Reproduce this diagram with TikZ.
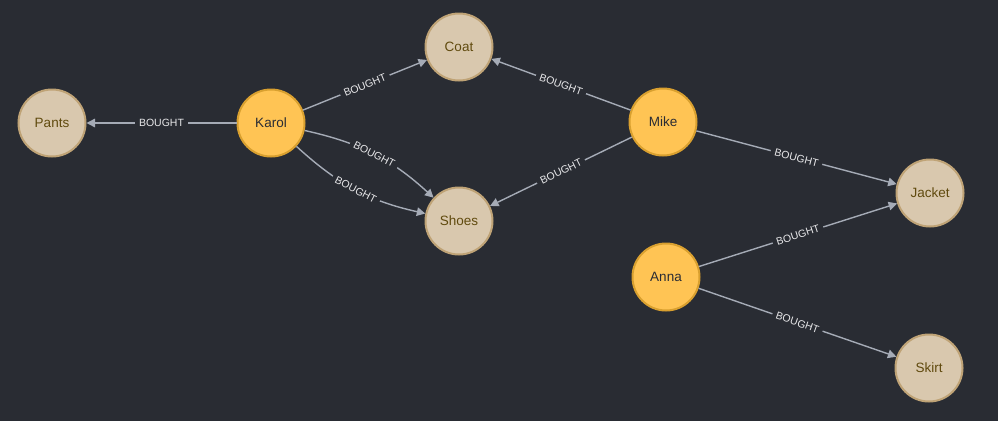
\documentclass[tikz,border=0pt]{standalone}
\usepackage{fontspec}
\setmainfont{Liberation Sans}
\usetikzlibrary{arrows.meta}
\definecolor{bg}{HTML}{292C33}
\definecolor{personfill}{HTML}{FFC454}
\definecolor{personborder}{HTML}{D9A02F}
\definecolor{persontext}{HTML}{2A2C34}
\definecolor{productfill}{HTML}{D9C8AE}
\definecolor{productborder}{HTML}{BFA376}
\definecolor{producttext}{HTML}{604A0E}
\definecolor{edgecol}{HTML}{A5ABB6}
\definecolor{labeltext}{HTML}{E8E8EA}
\begin{document}
\begin{tikzpicture}[x=1pt,y=-1pt,
  person/.style={circle, draw=personborder, fill=personfill, line width=2pt,
    minimum size=67pt, inner sep=0pt, text=persontext, font=\fontsize{13.5}{15}\selectfont},
  product/.style={circle, draw=productborder, fill=productfill, line width=2pt,
    minimum size=67pt, inner sep=0pt, text=producttext, font=\fontsize{13.5}{15}\selectfont},
  rel/.style={draw=edgecol, line width=1.4pt, -{Triangle[length=8.5pt,width=8.5pt]}},
  lbl/.style={sloped, fill=bg, text=labeltext, inner xsep=4pt, inner ysep=1pt,
    font=\fontsize{10.5}{12}\selectfont}
]
\fill[bg] (0,0) rectangle (998,421);
\useasboundingbox (0,0) rectangle (998,421);

\node[product] (pants)  at (52,123)  {Pants};
\node[person]  (karol)  at (271,123) {Karol};
\node[product] (coat)   at (459,47)  {Coat};
\node[product] (shoes)  at (459,221) {Shoes};
\node[person]  (mike)   at (663,122) {Mike};
\node[product] (jacket) at (930,193) {Jacket};
\node[person]  (anna)   at (666,277) {Anna};
\node[product] (skirt)  at (929,368) {Skirt};

\path[rel] (karol) -- node[lbl]{BOUGHT} (pants);
\path[rel] (karol) -- node[lbl]{BOUGHT} (coat);
\path[rel] (karol) to[bend left=15] node[lbl]{BOUGHT} (shoes);
\path[rel] (karol) to[bend right=15] node[lbl]{BOUGHT} (shoes);
\path[rel] (mike) -- node[lbl]{BOUGHT} (coat);
\path[rel] (mike) -- node[lbl]{BOUGHT} (shoes);
\path[rel] (mike) -- node[lbl]{BOUGHT} (jacket);
\path[rel] (anna) -- node[lbl]{BOUGHT} (jacket);
\path[rel] (anna) -- node[lbl]{BOUGHT} (skirt);
\end{tikzpicture}
\end{document}
